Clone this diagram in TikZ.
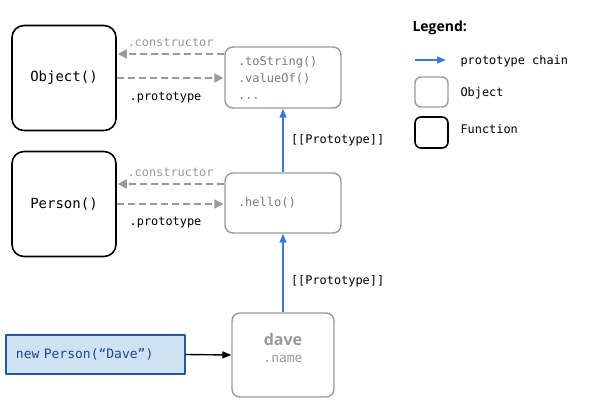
\documentclass[tikz,border=0pt]{standalone}
\usepackage{fontspec}
\setmonofont{DejaVu Sans Mono}
\setsansfont{Open Sans}
\usetikzlibrary{arrows.meta,positioning}
\definecolor{protogray}{HTML}{999999}
\definecolor{chainblue}{HTML}{3C78D8}
\definecolor{newfill}{HTML}{CFE2F3}
\definecolor{newdraw}{HTML}{1F5B9E}
\definecolor{newtext}{HTML}{1C4587}
\tikzset{
 func/.style={draw=black, line width=1.6pt, rounded corners=12pt, minimum width=104pt, minimum height=105pt, font=\ttfamily\fontsize{14}{16}\selectfont},
 obj/.style={draw=protogray, line width=1.4pt, rounded corners=8pt, minimum width=116pt, text width=90pt, inner xsep=13pt, align=left, text=protogray!80!black, font=\ttfamily\fontsize{12}{17}\selectfont},
 link/.style={protogray, line width=1.8pt, dash pattern=on 7pt off 4pt, shorten >=1pt, -{Triangle[length=9pt,width=9pt]}},
 chain/.style={chainblue, line width=1.4pt, -{Triangle[length=9pt,width=7pt]}},
 lbl/.style={text=black, font=\ttfamily\fontsize{11.9}{14}\selectfont}
}
\begin{document}
\begin{tikzpicture}[x=1pt, y=1pt, line join=round]
 \useasboundingbox (0,0) rectangle (589,417);
 % functions and their prototypes
 \node[func] (object) at (64,339) {Object()};
 \node[func] (person) at (64,213) {Person()};
 \node[obj, minimum height=61pt] (objproto) at (283,339.5) {.toString()\\.valueOf()\\...};
 \node[obj, minimum height=60pt] (perproto) at (283,214) {.hello()};
 \node[obj, minimum width=102pt, text width=76pt, minimum height=84pt] (dave) at (283,62) {};
 \node[text=protogray, font=\sffamily\bfseries\fontsize{16}{18}\selectfont] (davetitle) at (283,77) {dave};
 \node[text=protogray, font=\ttfamily\fontsize{13}{15}\selectfont, below=2pt of davetitle] (davefield) {.name};
 \node[draw=newdraw, fill=newfill, line width=1.2pt, minimum height=39pt, text width=159pt, inner xsep=10pt, align=left, text=newtext, font=\ttfamily\fontsize{13}{15}\selectfont] (newcall) at (95.5,62.5) {new Person(“Dave”)};
 % constructor / prototype links
 \draw[link] ([yshift=23.5pt]objproto.west) -- ([yshift=23.5pt]objproto.west -| object.east)
  node[midway, above=3pt, lbl, text=protogray] {.constructor};
 \draw[link] (object.east) -- (object.east -| objproto.west)
  node[midway, xshift=-5pt, below=10pt, lbl] {.prototype};
 \draw[link] ([yshift=19pt]perproto.west) -- ([yshift=19pt]perproto.west -| person.east)
  node[midway, above=3pt, lbl, text=protogray] {.constructor};
 \draw[link] (person.east) -- (person.east -| perproto.west)
  node[midway, xshift=-5pt, below=9pt, lbl] {.prototype};
 % prototype chain
 \draw[chain] (perproto) -- (objproto) node[midway, right=4pt, lbl] {[[Prototype]]};
 \draw[chain] (dave) -- (perproto) node[pos=0.4, right=4pt, lbl] {[[Prototype]]};
 \draw[line width=1.4pt, -{Triangle[length=9pt,width=7pt]}] (newcall.east) -- (dave.west);
 % legend
 \node[anchor=west, font=\sffamily\bfseries\fontsize{14}{16}\selectfont] (legend) at (409,389) {Legend:};
 \coordinate (chainstart) at (415,357);
 \coordinate (chainend) at (446,357);
 \draw[chain] (chainstart) -- (chainend);
 \node[anchor=west, lbl] (chaintext) at (457,356) {prototype chain};
 \node[draw=protogray, line width=1.4pt, rounded corners=6pt, minimum width=33pt, minimum height=30pt] (objkey) at (431.5,325) {};
 \node[anchor=west, lbl] (objtext) at (457,324) {Object};
 \node[draw=black, line width=1.6pt, rounded corners=6pt, minimum width=33pt, minimum height=31pt] (funckey) at (431.5,284.5) {};
 \node[anchor=west, lbl] (functext) at (457,288) {Function};
\end{tikzpicture}
\end{document}
